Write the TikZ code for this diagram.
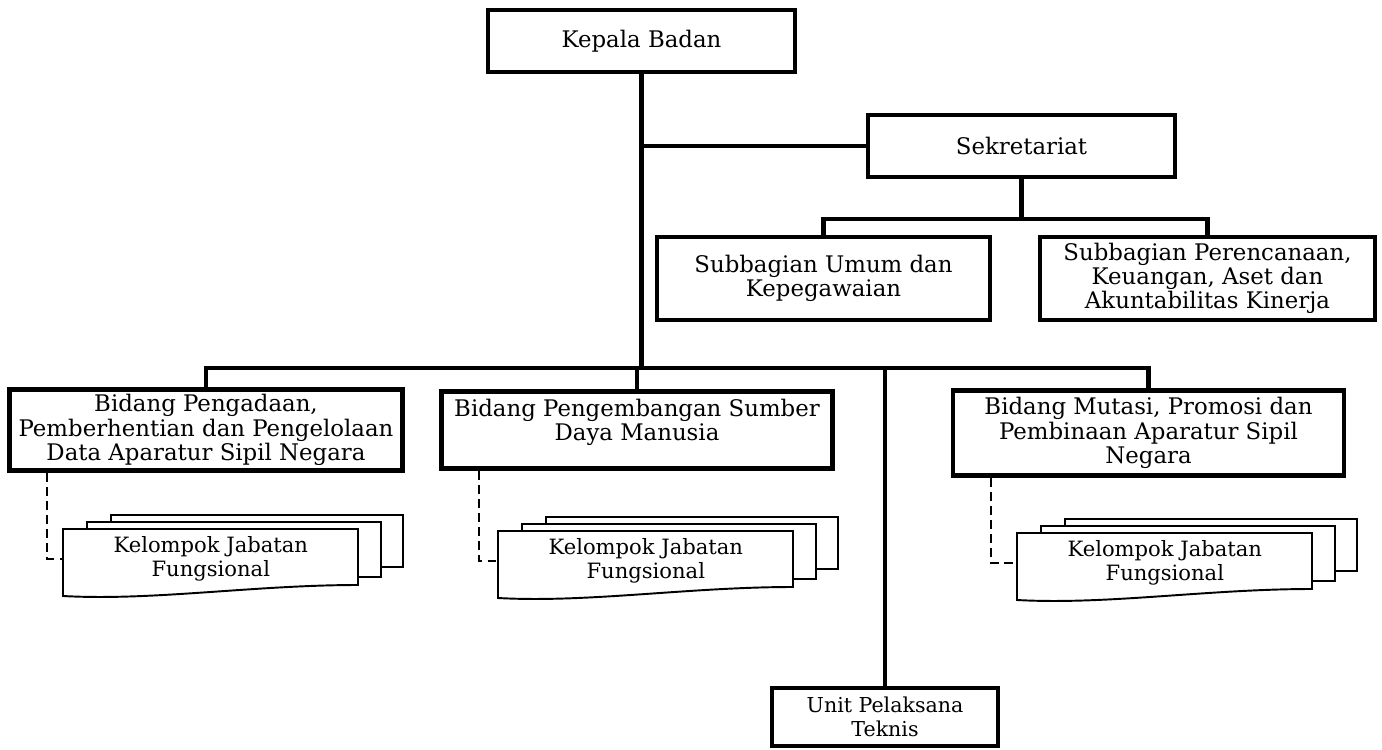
\documentclass[tikz,border=0pt]{standalone}
\usepackage{fontspec}
\setmainfont{DejaVu Serif}
\usetikzlibrary{calc,positioning}
\tikzset{
  unit/.style={draw, rectangle, line width=2.6pt, align=center, inner sep=1mm, fill=white,
    font=\fontsize{13}{13.8}\selectfont},
  uptbox/.style={unit, font=\fontsize{11.7}{13.5}\selectfont},
  conn/.style={line width=2.5pt, line cap=rect},
  dashconn/.style={line width=1.4pt, dashed, dash pattern=on 5pt off 3pt},
  sheet/.style={draw, line width=1.1pt, fill=white},
  kjf/.style={rectangle, anchor=north west, minimum width=5.9cm, minimum height=1.1cm, align=center,
    inner sep=0pt, font=\fontsize{12}{13.5}\selectfont}
}
% stacked sheets: name, x and y of the front sheet's top left corner
\newcommand{\kelompok}[3]{%
  \draw[sheet] (#2+48,#3-14) rectangle (#2+340,#3+38);
  \draw[sheet] (#2+24,#3-7) rectangle (#2+318,#3+48);
  \draw[sheet] (#2,#3) -- (#2+295,#3) -- (#2+295,#3+56)
     .. controls (#2+190,#3+56) and (#2+90,#3+72) .. (#2,#3+67) -- cycle;
  \node[kjf] (#1) at (#2,#3+2) {Kelompok Jabatan\\ Fungsional};
}

\begin{document}
\begin{tikzpicture}[x=0.02cm, y=-0.02cm]
\useasboundingbox (0,0) rectangle (1382,750);

\node[unit, minimum width=6.14cm, minimum height=1.24cm] (kepala) at (641.5,41) {Kepala Badan};
\node[unit, minimum width=6.14cm, minimum height=1.24cm] (sekr) at (1021.5,146) {Sekretariat};

\node[unit, minimum width=6.66cm, minimum height=1.66cm] (subum) at (823.5,278.5) {Subbagian Umum dan\\ Kepegawaian};
\node[unit, minimum width=6.7cm, minimum height=1.66cm] (subper) at (1207.5,278.5) {Subbagian Perencanaan,\\ Keuangan, Aset dan\\ Akuntabilitas Kinerja};

\node[unit, minimum width=7.86cm, minimum height=1.54cm] (bid1) at (206,430) {Bidang Pengadaan,\\ Pemberhentian dan Pengelolaan\\ Data Aparatur Sipil Negara};
\node[unit, minimum width=7.82cm, minimum height=1.54cm] (bid2) at (637,430) {Bidang Pengembangan Sumber\\ Daya Manusia\\[-2pt]\mbox{}};
\node[unit, minimum width=7.82cm, minimum height=1.7cm] (bid3) at (1148.5,433) {Bidang Mutasi, Promosi dan\\ Pembinaan Aparatur Sipil\\ Negara};

\node[uptbox, minimum width=4.52cm, minimum height=1.16cm] (upt) at (885,717) {Unit Pelaksana\\ Teknis};

\coordinate (bus) at (641.5,368);

% main line
\draw[conn] (kepala.south) -- (bus);
\draw[conn] (kepala.south |- sekr.west) -- (sekr.west);
\draw[conn] (sekr.south) -- ++(0,40) -| (subum.north);
\draw[conn] (sekr.south) -- ++(0,40) -| (subper.north);
\draw[conn] (bid1.north) |- (bus) -| (bid3.north);
\draw[conn] (bid2.north) -- (bid2.north |- bus);
\draw[conn] (upt.north) -- (upt.north |- bus);

% functional groups
\kelompok{kjf1}{63}{529}
\kelompok{kjf2}{498}{531}
\kelompok{kjf3}{1017}{533}

\draw[dashconn] ([xshift=0.8cm]bid1.south west) |- (kjf1.west);
\draw[dashconn] ([xshift=0.8cm]bid2.south west) |- (kjf2.west);
\draw[dashconn] ([xshift=0.8cm]bid3.south west) |- (kjf3.west);
\end{tikzpicture}
\end{document}
